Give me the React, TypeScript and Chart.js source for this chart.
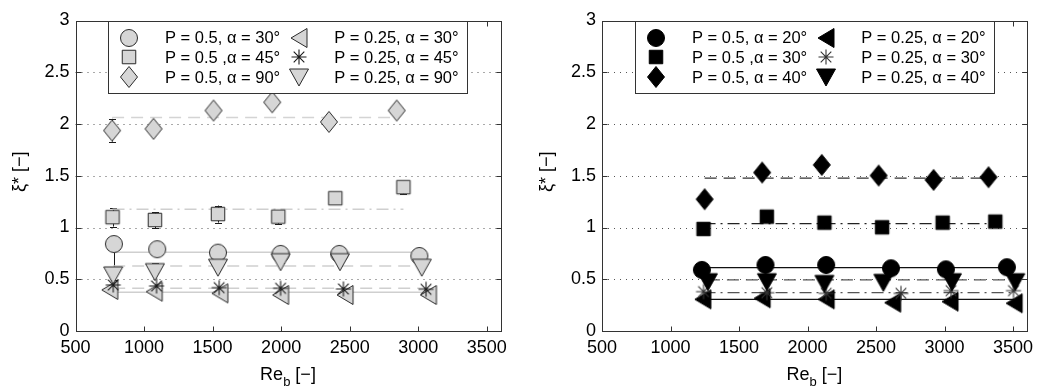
import React, { useEffect, useRef } from 'react';
import { Chart, registerables } from 'chart.js';

Chart.register(...registerables);

const FONT = "'Liberation Sans', Arial, Helvetica, sans-serif";

const X_TICKS = [500, 1000, 1500, 2000, 2500, 3000, 3500];
const Y_TICKS = [0, 0.5, 1, 1.5, 2, 2.5, 3];
const X_MIN = 500;
const X_MAX = 3600;
const Y_MIN = 0;
const Y_MAX = 3;

// ---------- Left panel ----------
const L_LABELS = [
  'P = 0.5, α = 30°',
  'P = 0.5 ,α = 45°',
  'P = 0.5, α = 90°',
  'P = 0.25, α = 30°',
  'P = 0.25, α = 45°',
  'P = 0.25, α = 90°',
];
const L_CIRCLE_X = [780, 1096, 1539, 1996, 2424, 3008];
const L_CIRCLE_Y = [0.84, 0.79, 0.757, 0.745, 0.745, 0.725];
const L_SQUARE_X = [770, 1079, 1539, 1979, 2395, 2892];
const L_SQUARE_Y = [1.1, 1.073, 1.13, 1.105, 1.283, 1.39];
const L_DIAMOND_X = [767, 1069, 1507, 1935, 2349, 2843];
const L_DIAMOND_Y = [1.937, 1.953, 2.13, 2.21, 2.02, 2.13];
const L_TRILEFT_X = [750, 1074, 1553, 1996, 2466, 3074];
const L_TRILEFT_Y = [0.397, 0.38, 0.364, 0.348, 0.348, 0.348];
const L_STAR_X = [775, 1091, 1548, 1996, 2454, 3057];
const L_STAR_Y = [0.445, 0.435, 0.419, 0.413, 0.406, 0.403];
const L_TRIDOWN_X = [775, 1079, 1539, 1996, 2429, 3026];
const L_TRIDOWN_Y = [0.542, 0.574, 0.616, 0.67, 0.67, 0.616];
const L_MEANS = [0.761, 1.177, 2.063, 0.374, 0.413, 0.629];

// error bars (NaN = none)
const L_CIRCLE_LO = [0.49, NaN, NaN, NaN, NaN, NaN];
const L_CIRCLE_HI = [0.86, NaN, NaN, NaN, NaN, NaN];
const L_SQUARE_LO = [1.009, 0.993, 1.047, 1.035, NaN, 1.322];
const L_SQUARE_HI = [1.187, 1.148, 1.212, 1.14, NaN, 1.444];
const L_DIAMOND_LO = [1.83, NaN, NaN, NaN, NaN, NaN];
const L_DIAMOND_HI = [2.05, NaN, NaN, NaN, NaN, NaN];
const L_TRIDOWN_LO = [NaN, 0.56, NaN, 0.66, NaN, NaN];
const L_TRIDOWN_HI = [NaN, 0.655, NaN, 0.745, NaN, NaN];

// ---------- Right panel ----------
const R_LABELS = [
  'P = 0.5, α = 20°',
  'P = 0.5 ,α = 30°',
  'P = 0.5, α = 40°',
  'P = 0.25, α = 20°',
  'P = 0.25, α = 30°',
  'P = 0.25, α = 40°',
];
const R_CIRCLE_X = [1229, 1693, 2136, 2609, 3010, 3455];
const R_CIRCLE_Y = [0.59, 0.638, 0.638, 0.606, 0.596, 0.616];
const R_SQUARE_X = [1241, 1703, 2123, 2544, 2986, 3370];
const R_SQUARE_Y = [0.986, 1.105, 1.047, 1.002, 1.047, 1.057];
const R_DIAMOND_X = [1249, 1669, 2104, 2519, 2920, 3321];
const R_DIAMOND_Y = [1.273, 1.531, 1.605, 1.502, 1.46, 1.486];
const R_TRILEFT_X = [1236, 1669, 2136, 2621, 3040, 3508];
const R_TRILEFT_Y = [0.306, 0.316, 0.306, 0.274, 0.284, 0.268];
const R_STAR_X = [1241, 1703, 2136, 2682, 3047, 3503];
const R_STAR_Y = [0.38, 0.37, 0.364, 0.364, 0.39, 0.39];
const R_TRIDOWN_X = [1273, 1703, 2123, 2553, 3054, 3516];
const R_TRIDOWN_Y = [0.477, 0.477, 0.46, 0.47, 0.477, 0.477];
const R_MEANS = [0.612, 1.038, 1.477, 0.306, 0.37, 0.493];

type Kind = 'circle' | 'square' | 'diamond' | 'trileft' | 'star' | 'tridown';
const KINDS: Kind[] = ['circle', 'square', 'diamond', 'trileft', 'star', 'tridown'];

function makeMarker(kind: Kind, fill: string, stroke: string): HTMLCanvasElement {
  const S = 28;
  const c = document.createElement('canvas');
  c.width = S;
  c.height = S;
  const g = c.getContext('2d') as CanvasRenderingContext2D;
  g.translate(S / 2, S / 2);
  g.fillStyle = fill;
  g.strokeStyle = stroke;
  g.lineWidth = 1;
  g.beginPath();
  if (kind === 'circle') {
    g.arc(0, 0, 8.5, 0, Math.PI * 2);
  } else if (kind === 'square') {
    g.rect(-6.75, -6.75, 13.5, 13.5);
  } else if (kind === 'diamond') {
    g.moveTo(0, -10.5);
    g.lineTo(8.5, 0);
    g.lineTo(0, 10.5);
    g.lineTo(-8.5, 0);
    g.closePath();
  } else if (kind === 'trileft') {
    g.moveTo(-8, 0);
    g.lineTo(8, -9.5);
    g.lineTo(8, 9.5);
    g.closePath();
  } else if (kind === 'tridown') {
    g.moveTo(-9.5, -8);
    g.lineTo(9.5, -8);
    g.lineTo(0, 9);
    g.closePath();
  } else {
    const r = 7.5;
    for (let i = 0; i < 4; i++) {
      const a = (i * Math.PI) / 4;
      g.moveTo(-Math.cos(a) * r, -Math.sin(a) * r);
      g.lineTo(Math.cos(a) * r, Math.sin(a) * r);
    }
    g.lineWidth = 1.1;
    g.stroke();
    return c;
  }
  g.fill();
  g.stroke();
  return c;
}

interface PanelDef {
  labels: string[];
  xs: number[][];
  ys: number[][];
  means: number[];
  fill: string;
  stroke: string;
  starStroke: string;
  lineColors: string[];
  lineDashes: number[][];
  lineWidth: number;
  errs: { xs: number[]; ys: number[]; lo: number[]; hi: number[] }[];
  yAxisWidth: number;
  padRight: number;
}

const DASH = [12, 7];
const DASHDOT = [12, 5, 2, 5];

const LEFT: PanelDef = {
  labels: L_LABELS,
  xs: [L_CIRCLE_X, L_SQUARE_X, L_DIAMOND_X, L_TRILEFT_X, L_STAR_X, L_TRIDOWN_X],
  ys: [L_CIRCLE_Y, L_SQUARE_Y, L_DIAMOND_Y, L_TRILEFT_Y, L_STAR_Y, L_TRIDOWN_Y],
  means: L_MEANS,
  fill: '#d6d6d6',
  stroke: '#2a2a2a',
  starStroke: '#1a1a1a',
  lineColors: ['#cfcfcf', '#cfcfcf', '#d4d4d4', '#cfcfcf', '#cfcfcf', '#cfcfcf'],
  lineDashes: [[], DASHDOT, DASH, [], DASH, DASH],
  lineWidth: 1.5,
  errs: [
    { xs: L_CIRCLE_X, ys: L_CIRCLE_Y, lo: L_CIRCLE_LO, hi: L_CIRCLE_HI },
    { xs: L_SQUARE_X, ys: L_SQUARE_Y, lo: L_SQUARE_LO, hi: L_SQUARE_HI },
    { xs: L_DIAMOND_X, ys: L_DIAMOND_Y, lo: L_DIAMOND_LO, hi: L_DIAMOND_HI },
    { xs: L_TRIDOWN_X, ys: L_TRIDOWN_Y, lo: L_TRIDOWN_LO, hi: L_TRIDOWN_HI },
  ],
  yAxisWidth: 75.5,
  padRight: 19.5,
};

const RIGHT: PanelDef = {
  labels: R_LABELS,
  xs: [R_CIRCLE_X, R_SQUARE_X, R_DIAMOND_X, R_TRILEFT_X, R_STAR_X, R_TRIDOWN_X],
  ys: [R_CIRCLE_Y, R_SQUARE_Y, R_DIAMOND_Y, R_TRILEFT_Y, R_STAR_Y, R_TRIDOWN_Y],
  means: R_MEANS,
  fill: '#000000',
  stroke: '#000000',
  starStroke: '#333333',
  lineColors: ['#111111', '#222222', '#333333', '#111111', '#555555', '#555555'],
  lineDashes: [[], DASHDOT, DASH, [], DASHDOT, DASH],
  lineWidth: 1.3,
  errs: [],
  yAxisWidth: 82,
  padRight: 12.5,
};

function buildChart(canvas: HTMLCanvasElement, P: PanelDef): Chart {
  const markers = KINDS.map((k) =>
    makeMarker(k, k === 'star' ? 'none' : P.fill, k === 'star' ? P.starStroke : P.stroke)
  );

  const datasets: any[] = [];
  // mean lines (drawn underneath)
  P.means.forEach((m, i) => {
    const xs = P.xs[i];
    datasets.push({
      type: 'line',
      label: 'mean-' + i,
      data: [
        { x: Math.min(...xs), y: m },
        { x: Math.max(...xs), y: m },
      ],
      showLine: true,
      borderColor: P.lineColors[i],
      borderWidth: P.lineWidth,
      borderDash: P.lineDashes[i],
      pointRadius: 0,
      fill: false,
      order: 20 + i,
    });
  });
  // markers
  KINDS.forEach((k, i) => {
    datasets.push({
      type: 'scatter',
      label: P.labels[i],
      data: P.xs[i].map((x, j) => ({ x, y: P.ys[i][j] })),
      pointStyle: markers[i],
      pointRadius: 9,
      showLine: false,
      order: 6 - i,
    });
  });

  const panelPlugin = {
    id: 'panelDecor',
    beforeDatasetsDraw(chart: any) {
      const ctx: CanvasRenderingContext2D = chart.ctx;
      const ca = chart.chartArea;
      const xs = chart.scales.x;
      const ys = chart.scales.y;
      ctx.save();
      // dotted grid lines
      ctx.strokeStyle = '#555';
      ctx.lineWidth = 1;
      ctx.setLineDash([1, 5]);
      Y_TICKS.forEach((v) => {
        if (v <= Y_MIN || v >= Y_MAX) return;
        const y = Math.round(ys.getPixelForValue(v)) + 0.5;
        ctx.beginPath();
        ctx.moveTo(ca.left, y);
        ctx.lineTo(ca.right, y);
        ctx.stroke();
      });
      ctx.setLineDash([]);
      // error bars
      ctx.strokeStyle = '#1a1a1a';
      ctx.lineWidth = 1;
      P.errs.forEach((e) => {
        e.xs.forEach((xv, j) => {
          const lo = e.lo[j];
          const hi = e.hi[j];
          if (isNaN(lo) || isNaN(hi)) return;
          const px = Math.round(xs.getPixelForValue(xv)) + 0.5;
          const py1 = ys.getPixelForValue(lo);
          const py2 = ys.getPixelForValue(hi);
          ctx.beginPath();
          ctx.moveTo(px, py1);
          ctx.lineTo(px, py2);
          ctx.moveTo(px - 3.5, Math.round(py1) + 0.5);
          ctx.lineTo(px + 3.5, Math.round(py1) + 0.5);
          ctx.moveTo(px - 3.5, Math.round(py2) + 0.5);
          ctx.lineTo(px + 3.5, Math.round(py2) + 0.5);
          ctx.stroke();
        });
      });
      ctx.restore();
    },
    afterDatasetsDraw(chart: any) {
      const ctx: CanvasRenderingContext2D = chart.ctx;
      const ca = chart.chartArea;
      const xs = chart.scales.x;
      const ys = chart.scales.y;
      ctx.save();
      // frame
      const L = Math.round(ca.left) + 0.5;
      const R = Math.round(ca.right) + 0.5;
      const T = Math.round(ca.top) + 0.5;
      const B = Math.round(ca.bottom) + 0.5;
      ctx.strokeStyle = '#333';
      ctx.lineWidth = 1;
      ctx.strokeRect(L, T, R - L, B - T);
      // inside ticks
      ctx.beginPath();
      X_TICKS.forEach((v) => {
        const x = Math.round(xs.getPixelForValue(v)) + 0.5;
        ctx.moveTo(x, B);
        ctx.lineTo(x, B - 5);
        ctx.moveTo(x, T);
        ctx.lineTo(x, T + 5);
      });
      Y_TICKS.forEach((v) => {
        const y = Math.round(ys.getPixelForValue(v)) + 0.5;
        ctx.moveTo(L, y);
        ctx.lineTo(L + 5, y);
        ctx.moveTo(R, y);
        ctx.lineTo(R - 5, y);
      });
      ctx.stroke();

      // legend box
      const bx = Math.round(ca.left + 32.5) + 0.5;
      const by = T;
      const bw = 359;
      const bh = 71.5;
      ctx.fillStyle = '#fff';
      ctx.fillRect(bx, by, bw, bh);
      ctx.strokeStyle = '#333';
      ctx.strokeRect(bx, by, bw, Math.round(bh));
      const rowY = [16, 35.8, 55.5];
      ctx.font = '16.5px ' + FONT;
      ctx.fillStyle = '#000';
      ctx.textBaseline = 'middle';
      ctx.textAlign = 'left';
      const metas = chart.getSortedVisibleDatasetMetas();
      const items = chart.data.datasets.filter((d: any) => d.type === 'scatter');
      items.forEach((d: any, i: number) => {
        const col = i < 3 ? 0 : 1;
        const row = i % 3;
        const mx = bx + (col === 0 ? 20.7 : 190.5);
        const tx = bx + (col === 0 ? 56.5 : 225.7);
        const my = by + rowY[row];
        const img = d.pointStyle as HTMLCanvasElement;
        ctx.drawImage(img, Math.round(mx - img.width / 2), Math.round(my - img.height / 2));
        ctx.fillText(d.label, tx, my + 1);
      });
      void metas;
      ctx.restore();
    },
    afterDraw(chart: any) {
      const ctx: CanvasRenderingContext2D = chart.ctx;
      const ca = chart.chartArea;
      ctx.save();
      ctx.fillStyle = '#000';
      // y title
      ctx.font = '18px ' + FONT;
      ctx.textAlign = 'center';
      ctx.textBaseline = 'middle';
      ctx.translate(ca.left - 55, (ca.top + ca.bottom) / 2 - 4);
      ctx.rotate(-Math.PI / 2);
      ctx.fillText('ξ* [−]', 0, 0);
      ctx.setTransform(1, 0, 0, 1, 0, 0);
      // x title with subscript
      const big = '18px ' + FONT;
      const small = '13px ' + FONT;
      ctx.textAlign = 'left';
      ctx.textBaseline = 'alphabetic';
      ctx.font = big;
      const w1 = ctx.measureText('Re').width;
      const w3 = ctx.measureText(' [−]').width;
      ctx.font = small;
      const w2 = ctx.measureText('b').width;
      const total = w1 + w2 + w3;
      const cx = (ca.left + ca.right) / 2;
      let x = cx - total / 2;
      const base = 379.5;
      ctx.font = big;
      ctx.fillText('Re', x, base);
      x += w1;
      ctx.font = small;
      ctx.fillText('b', x, base + 6);
      x += w2;
      ctx.font = big;
      ctx.fillText(' [−]', x, base);
      ctx.restore();
    },
  };

  const tickFont = { family: FONT, size: 18 };

  return new Chart(canvas, {
    type: 'scatter',
    data: { datasets },
    options: {
      responsive: false,
      animation: false,
      events: [],
      layout: { padding: { left: 0, right: P.padRight, top: 20.5, bottom: 0 } },
      plugins: { legend: { display: false }, tooltip: { enabled: false } },
      scales: {
        x: {
          type: 'linear',
          min: X_MIN,
          max: X_MAX,
          afterBuildTicks: (s: any) => {
            s.ticks = X_TICKS.map((v) => ({ value: v }));
          },
          afterFit: (s: any) => {
            s.height = 59;
          },
          grid: { display: false, drawTicks: false },
          border: { display: false },
          ticks: {
            font: tickFont,
            color: '#000',
            padding: 6.5,
            maxRotation: 0,
            autoSkip: false,
            callback: (v: any) => String(v),
          },
        },
        y: {
          type: 'linear',
          min: Y_MIN,
          max: Y_MAX,
          afterBuildTicks: (s: any) => {
            s.ticks = Y_TICKS.map((v) => ({ value: v }));
          },
          afterFit: (s: any) => {
            s.width = P.yAxisWidth;
          },
          grid: { display: false, drawTicks: false },
          border: { display: false },
          ticks: {
            font: tickFont,
            color: '#000',
            padding: 6,
            autoSkip: false,
            callback: (v: any) => String(v),
          },
        },
      },
    } as any,
    plugins: [panelPlugin as any],
  });
}

export default function App() {
  const lRef = useRef<HTMLCanvasElement>(null);
  const rRef = useRef<HTMLCanvasElement>(null);

  useEffect(() => {
    const a = buildChart(lRef.current as HTMLCanvasElement, LEFT);
    const b = buildChart(rRef.current as HTMLCanvasElement, RIGHT);
    return () => {
      a.destroy();
      b.destroy();
    };
  }, []);

  return (
    <div style={{ position: 'absolute', left: 0, top: 0, width: 1040, height: 390, background: '#fff' }}>
      <canvas
        ref={lRef}
        width={520}
        height={390}
        style={{ position: 'absolute', left: 0, top: 0, width: 520, height: 390 }}
      />
      <canvas
        ref={rRef}
        width={520}
        height={390}
        style={{ position: 'absolute', left: 520, top: 0, width: 520, height: 390 }}
      />
    </div>
  );
}
